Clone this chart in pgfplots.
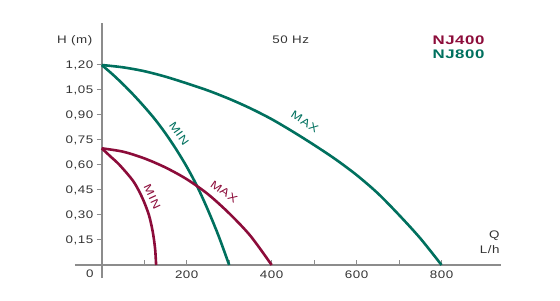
\documentclass[border=0pt]{standalone}
\usepackage{fontspec}
\setmainfont{Liberation Sans}[FakeStretch=1.22, LetterSpace=5]
\newfontfamily\titlefont{Liberation Sans}[FakeStretch=1.35, LetterSpace=5]
\usepackage{pgfplots}
\pgfplotsset{compat=1.18}
\definecolor{ngreen}{RGB}{0,112,94}
\definecolor{nred}{RGB}{140,12,58}
\definecolor{axgray}{RGB}{140,140,140}
\begin{document}
\begin{tikzpicture}
\useasboundingbox (-75bp,-23bp) rectangle (485bp,278bp);
\begin{axis}[
  at={(0,0)}, anchor=south west,
  scale only axis, width=426bp, height=255bp,
  xmin=-63, xmax=940, ymin=-0.078, ymax=1.452,
  axis lines=middle,
  axis line style={axgray, line width=2.5bp, -},
  xtick={100,200,300,400,500,600,700,800},
  xticklabels={,200,,400,,600,,800},
  ytick={0.15,0.30,0.45,0.60,0.75,0.90,1.05,1.20},
  yticklabel style={/pgf/number format/fixed, /pgf/number format/fixed zerofill, /pgf/number format/precision=2, /pgf/number format/use comma},
  /pgf/number format/assume math mode=true,
  tick style={axgray, line width=1bp},
  major tick length=5bp,
  tick align=outside,
  xtick style={yshift=5bp},
  x tick label style={yshift=3bp},
  tick label style={text=black!80, font=\fontsize{11}{12}\selectfont},
  clip=false,
]
\addplot[ngreen, line width=2.6bp, smooth] coordinates {(0,1.200)(50,1.186)(100,1.163)(150,1.130)(200,1.090)(250,1.047)(300,0.997)(350,0.940)(400,0.875)(450,0.800)(500,0.720)(550,0.635)(600,0.540)(650,0.430)(700,0.300)(750,0.160)(800,0)};
\addplot[ngreen, line width=2.6bp, smooth] coordinates {(0,1.200)(25,1.145)(50,1.085)(75,1.020)(100,0.950)(125,0.875)(150,0.790)(175,0.695)(200,0.590)(225,0.470)(250,0.330)(275,0.175)(300,0)};
\addplot[nred, line width=2.6bp, smooth] coordinates {(0,0.700)(50,0.680)(100,0.640)(150,0.585)(200,0.515)(250,0.425)(300,0.310)(350,0.175)(400,0)};
\addplot[nred, line width=2.6bp, smooth] coordinates {(0,0.70)(21,0.65)(42,0.60)(75,0.50)(96,0.40)(111,0.30)(120,0.20)(125.5,0.10)(128,0)};
\node[ngreen, rotate=-55, font=\fontsize{11}{12}\selectfont] at (axis cs:182,0.79) {MIN};
\node[ngreen, rotate=-32, font=\fontsize{11}{12}\selectfont] at (axis cs:478,0.86) {MAX};
\node[nred, rotate=-65, font=\fontsize{11}{12}\selectfont] at (axis cs:119,0.41) {MIN};
\node[nred, rotate=-35, font=\fontsize{11}{12}\selectfont] at (axis cs:288,0.44) {MAX};
\node[anchor=east, text=black!80, font=\fontsize{11}{12}\selectfont] at (axis cs:-14,1.345) {H (m)};
\node[text=black!80, font=\fontsize{11}{12}\selectfont] at (axis cs:445,1.35) {50 Hz};
\node[text=nred, font=\titlefont\bfseries\fontsize{12.5}{14}\selectfont] at (axis cs:840,1.35) {NJ400};
\node[text=ngreen, font=\titlefont\bfseries\fontsize{12.5}{14}\selectfont] at (axis cs:840,1.264) {NJ800};
\node[anchor=east, text=black!80, font=\fontsize{11}{12}\selectfont] at (axis cs:945,0.174) {Q};
\node[anchor=east, text=black!80, font=\fontsize{11}{12}\selectfont] at (axis cs:945,0.09) {L/h};
\node[text=black!80, font=\fontsize{11}{12}\selectfont] at (axis cs:-28,-0.054) {0};
\end{axis}
\end{tikzpicture}
\end{document}
